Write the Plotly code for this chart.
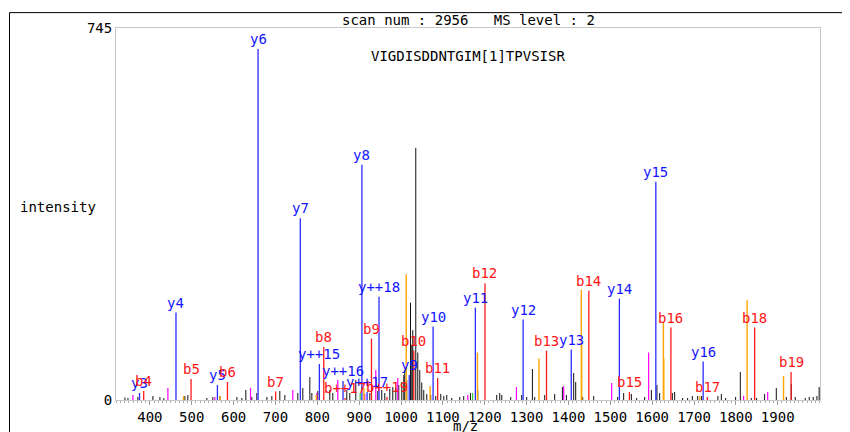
import plotly.graph_objects as go

# ---------------- data ----------------
title_text = "scan num : 2956\u00a0\u00a0\u00a0MS level : 2"
peptide = "VIGDISDDNTGIM[1]TPVSISR"
y_max = 745
x_range = [319, 2001]
x_ticks = [400, 500, 600, 700, 800, 900, 1000, 1100, 1200, 1300, 1400, 1500, 1600, 1700, 1800, 1900]

# labelled y ions (blue)
y_labels = ["y3", "y4", "y5", "y6", "y7", "y++15", "y++16", "y8", "y++17", "y++18",
            "y9", "y10", "y11", "y12", "y13", "y14", "y15", "y16"]
y_mz = [375.2, 462.3, 561.3, 658.4, 759.4, 804.9, 861.4, 906.5, 918.9, 947.4,
        1019.6, 1076.6, 1177.6, 1291.7, 1406.7, 1521.7, 1608.8, 1721.8]
y_int = [14, 175, 30, 703, 364, 72, 38, 471, 16, 207,
         50, 147, 185, 161, 101, 203, 437, 77]

# labelled b ions (red)
b_labels = ["b4", "b5", "b6", "b7", "b8", "b++17", "b9", "b++19", "b10", "b11",
            "b12", "b13", "b14", "b15", "b16", "b17", "b18", "b19"]
b_mz = [385.2, 498.3, 585.3, 700.4, 815.4, 866.4, 929.4, 966.5, 1030.5, 1087.5,
        1200.6, 1347.6, 1448.7, 1545.7, 1644.8, 1731.8, 1844.9, 1931.9]
b_int = [18, 42, 36, 17, 106, 4, 123, 6, 99, 44,
         234, 99, 219, 16, 145, 6, 145, 56]

# neutral-loss b ions (orange)
orange_mz = [480.3, 567.3, 797.4, 911.4, 1012.5, 1069.5, 1182.6, 1329.6, 1430.7, 1431.6,
             1626.8, 1627.8, 1713.8, 1826.9, 1913.9]
orange_int = [8, 8, 10, 24, 252, 28, 95, 83, 221, 110,
              155, 83, 8, 200, 48]

# neutral-loss y ions (magenta)
magenta_mz = [359.4, 443.0, 555.2, 640.4, 741.4, 798.7, 848.9, 913.4, 939.7, 992.2,
              1159.4, 1275.7, 1388.7, 1503.2, 1591.6, 1818.5, 1876.0]
magenta_int = [10, 24, 6, 24, 20, 14, 40, 12, 60, 44,
               10, 26, 28, 34, 95, 8, 16]

# other matched peaks (green)
green_mz = [902.4, 1171.0]
green_int = [14, 14]

# unmatched peaks (black)
noise_mz = [340.3, 347.5, 371.3, 407.2, 423.9, 433.4, 483.6, 490.7, 536.1, 550.4,
            567.2, 607.8, 619.7, 629.2, 643.6, 655.5, 679.4, 691.3, 710.4, 722.4,
            753.4, 765.4, 782.1, 786.9, 801.2, 829.8, 837.0, 870.4, 877.6, 891.9,
            925.4, 944.5, 954.0, 961.2, 973.1, 980.3, 987.5, 994.6, 1001.8, 1006.6,
            1009.0, 1013.7, 1022.6, 1025.7, 1028.0, 1035.2, 1040.0, 1044.8, 1049.5, 1054.3,
            1061.5, 1071.0, 1082.9, 1094.9, 1102.1, 1109.2, 1121.2, 1140.3, 1149.8, 1165.8,
            1183.3, 1228.6, 1235.8, 1240.6, 1262.1, 1288.3, 1300.3, 1313.9, 1319.4, 1343.3,
            1367.1, 1385.5, 1395.1, 1412.5, 1417.3, 1434.0, 1460.3, 1517.6, 1531.9, 1550.3,
            1562.9, 1582.1, 1598.1, 1611.4, 1617.9, 1648.2, 1653.7, 1672.8, 1684.7, 1696.0,
            1708.7, 1718.2, 1757.1, 1765.3, 1775.5, 1799.4, 1810.6, 1836.9, 1849.5, 1868.6,
            1896.6, 1920.5, 1932.4, 1941.9, 1965.7, 1975.3, 1984.8, 1993.7, 1999.0]
noise_int = [5, 4, 6, 8, 6, 4, 8, 10, 4, 6,
             8, 6, 4, 20, 6, 14, 6, 8, 18, 10,
             14, 24, 46, 14, 18, 20, 14, 20, 14, 40,
             14, 18, 20, 14, 22, 26, 24, 30, 36, 50,
             60, 40, 195, 110, 140, 505, 95, 60, 35, 20,
             12, 10, 8, 12, 8, 10, 4, 6, 8, 14,
             20, 10, 14, 10, 6, 10, 6, 62, 6, 10,
             12, 26, 10, 54, 36, 6, 8, 6, 14, 12,
             4, 6, 20, 30, 14, 14, 16, 4, 4, 8,
             8, 8, 8, 12, 4, 6, 56, 4, 4, 12,
             24, 6, 32, 6, 4, 6, 6, 8, 26]

FONT = "DejaVu Sans Mono"


def sticks(mz, inten):
    xs, ys = [], []
    for m, h in zip(mz, inten):
        xs += [m, m, None]
        ys += [0, h, None]
    return xs, ys


fig = go.Figure()
for mz, inten, col, w in [
    (noise_mz, noise_int, "#111111", 1),
    (green_mz, green_int, "#33cc33", 1.2),
    (magenta_mz, magenta_int, "#ff00ff", 1.2),
    (orange_mz, orange_int, "#ffa500", 1.4),
    (y_mz, y_int, "#2b2bff", 1.3),
    (b_mz, b_int, "#ff1a1a", 1.3),
]:
    xs, ys = sticks(mz, inten)
    fig.add_trace(go.Scatter(x=xs, y=ys, mode="lines", line=dict(color=col, width=w),
                             hoverinfo="skip", showlegend=False))

annotations = []
for labels, mz, inten, col in [(y_labels, y_mz, y_int, "#1414ff"),
                                (b_labels, b_mz, b_int, "#ff1414")]:
    for lab, m, h in zip(labels, mz, inten):
        annotations.append(dict(x=m, y=h, xref="x", yref="y", text=lab, showarrow=False,
                                yanchor="bottom", xanchor="center", yshift=0,
                                font=dict(family=FONT, size=14, color=col)))

annotations += [
    dict(x=0.5, y=1.0213, xref="paper", yref="paper", text=title_text, showarrow=False,
         xanchor="center", yanchor="middle", font=dict(family=FONT, size=14, color="black")),
    dict(x=0.5, y=0.9253, xref="paper", yref="paper", text=peptide, showarrow=False,
         xanchor="center", yanchor="middle", font=dict(family=FONT, size=14, color="black")),
    dict(x=-0.1392, y=0.52, xref="paper", yref="paper", text="intensity", showarrow=False,
         xanchor="left", yanchor="middle", font=dict(family=FONT, size=14, color="black")),
    dict(x=0.497, y=-0.0693, xref="paper", yref="paper", text="m/z", showarrow=False,
         xanchor="center", yanchor="middle", font=dict(family=FONT, size=14, color="black")),
]

shapes = [
    dict(type="line", xref="paper", yref="paper", x0=-0.1513, x1=1.06, y0=1.0413, y1=1.0413,
         line=dict(color="black", width=1)),
    dict(type="line", xref="paper", yref="paper", x0=-0.1513, x1=-0.1513, y0=1.0413, y1=-0.12,
         line=dict(color="black", width=1)),
]

fig.update_layout(
    width=850, height=432,
    margin=dict(l=108, r=38, t=17, b=40),
    paper_bgcolor="white", plot_bgcolor="white",
    annotations=annotations, shapes=shapes,
    xaxis=dict(range=x_range, tickvals=x_ticks, ticks="outside", ticklen=4, tickcolor="#999999",
               showline=True, linecolor="#c8c8c8", mirror=True, showgrid=False, zeroline=False,
               tickfont=dict(family=FONT, size=14, color="black"),
               minor=dict(dtick=10, ticks="outside", ticklen=2, tickcolor="#aaaaaa")),
    yaxis=dict(range=[0, y_max], tickvals=[0, y_max], ticktext=["0", str(y_max)], ticks="",
               showline=True, linecolor="#c8c8c8", mirror=True, showgrid=False, zeroline=False,
               tickfont=dict(family=FONT, size=14, color="black")),
)

fig.write_html("out.html")
